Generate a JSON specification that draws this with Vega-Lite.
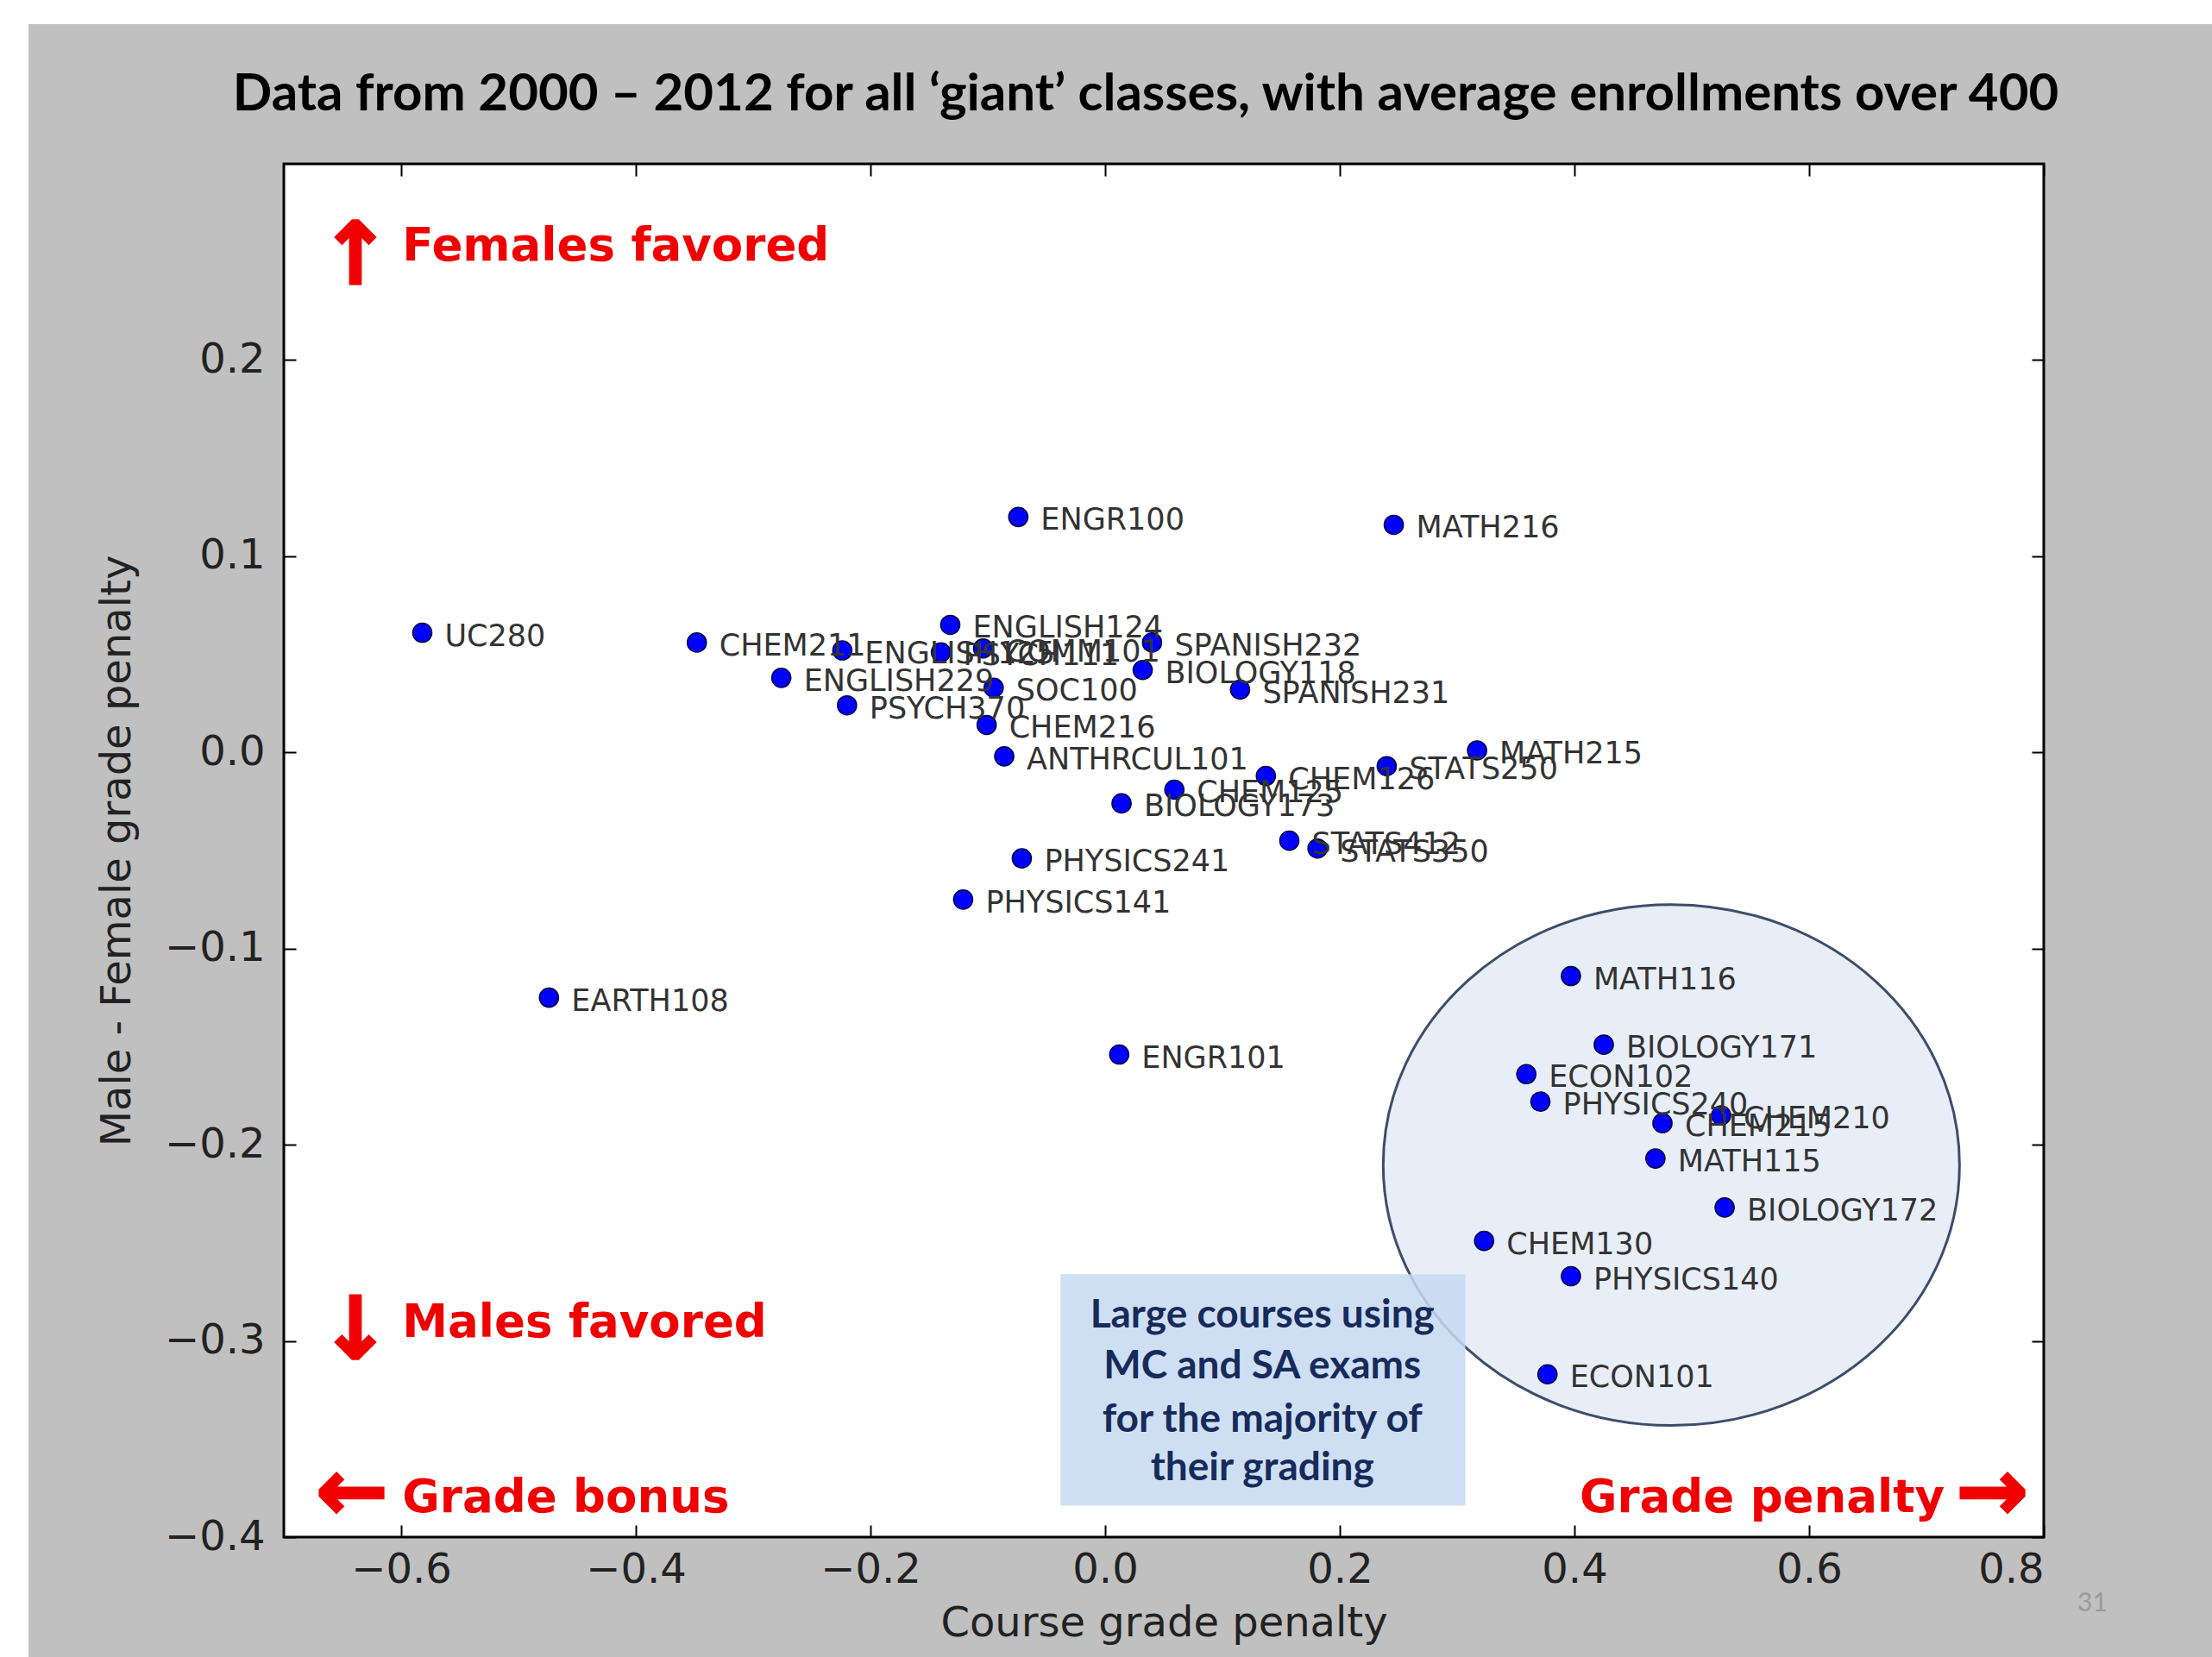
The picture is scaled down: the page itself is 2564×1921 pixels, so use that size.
{
  "$schema": "https://vega.github.io/schema/vega-lite/v6.json",
  "autosize": "none",
  "width": 2040,
  "height": 1592,
  "padding": {"left": 329, "top": 190, "right": 195, "bottom": 139},
  "background": "white",
  "view": {"stroke": null},
  "title": {
    "text": "Data from 2000 – 2012 for all ‘giant’ classes, with average enrollments over 400",
    "font": "Lato", "fontSize": 60, "fontWeight": "bold", "color": "black",
    "anchor": "middle", "baseline": "alphabetic", "offset": -160, "dx": -21
  },
  "datasets": {
    "courses": [
      {"course": "ENGR100", "x": -0.074, "y": 0.120},
      {"course": "MATH216", "x": 0.246, "y": 0.116},
      {"course": "UC280", "x": -0.582, "y": 0.061},
      {"course": "CHEM211", "x": -0.348, "y": 0.056},
      {"course": "ENGLISH125", "x": -0.224, "y": 0.052},
      {"course": "ENGLISH124", "x": -0.132, "y": 0.065},
      {"course": "PSYCH111", "x": -0.140, "y": 0.051},
      {"course": "COMM101", "x": -0.104, "y": 0.053},
      {"course": "ENGLISH229", "x": -0.276, "y": 0.038},
      {"course": "PSYCH370", "x": -0.220, "y": 0.024},
      {"course": "SOC100", "x": -0.095, "y": 0.033},
      {"course": "CHEM216", "x": -0.101, "y": 0.014},
      {"course": "ANTHRCUL101", "x": -0.086, "y": -0.002},
      {"course": "SPANISH232", "x": 0.040, "y": 0.056},
      {"course": "BIOLOGY118", "x": 0.032, "y": 0.042},
      {"course": "SPANISH231", "x": 0.115, "y": 0.032},
      {"course": "MATH215", "x": 0.317, "y": 0.001},
      {"course": "STATS250", "x": 0.240, "y": -0.007},
      {"course": "CHEM126", "x": 0.137, "y": -0.012},
      {"course": "CHEM125", "x": 0.059, "y": -0.019},
      {"course": "BIOLOGY173", "x": 0.014, "y": -0.026},
      {"course": "STATS412", "x": 0.157, "y": -0.045},
      {"course": "STATS350", "x": 0.181, "y": -0.049},
      {"course": "PHYSICS241", "x": -0.071, "y": -0.054},
      {"course": "PHYSICS141", "x": -0.121, "y": -0.075},
      {"course": "EARTH108", "x": -0.474, "y": -0.125},
      {"course": "ENGR101", "x": 0.012, "y": -0.154},
      {"course": "MATH116", "x": 0.397, "y": -0.114},
      {"course": "BIOLOGY171", "x": 0.425, "y": -0.149},
      {"course": "ECON102", "x": 0.359, "y": -0.164},
      {"course": "PHYSICS240", "x": 0.371, "y": -0.178},
      {"course": "CHEM215", "x": 0.475, "y": -0.189},
      {"course": "CHEM210", "x": 0.525, "y": -0.185},
      {"course": "MATH115", "x": 0.469, "y": -0.207},
      {"course": "BIOLOGY172", "x": 0.528, "y": -0.232},
      {"course": "CHEM130", "x": 0.323, "y": -0.249},
      {"course": "PHYSICS140", "x": 0.397, "y": -0.267},
      {"course": "ECON101", "x": 0.377, "y": -0.317}
    ],
    "slide": [{"x1": -0.9176, "x2": 1.0, "y1": 0.3712, "y2": -0.5}],
    "plotarea": [{"x1": -0.7, "x2": 0.8, "y1": 0.3, "y2": -0.4}],
    "ellipse": [{"x": 0.4826, "y": -0.2103}],
    "box": [{"x1": -0.038, "x2": 0.307, "y1": -0.266, "y2": -0.384}],
    "boxtext": [
      {"line": "Large courses using", "x": 0.134, "y": -0.287},
      {"line": "MC and SA exams", "x": 0.134, "y": -0.313},
      {"line": "for the majority of", "x": 0.134, "y": -0.340},
      {"line": "their grading", "x": 0.134, "y": -0.365}
    ],
    "redleft": [
      {"label": "Females favored", "x": -0.599, "y": 0.258},
      {"label": "Males favored", "x": -0.599, "y": -0.291},
      {"label": "Grade bonus", "x": -0.599, "y": -0.380}
    ],
    "redright": [
      {"label": "Grade penalty", "x": 0.7155, "y": -0.380}
    ],
    "arrows": [
      {"glyph": "↑", "x": -0.639, "y": 0.252},
      {"glyph": "↓", "x": -0.639, "y": -0.296},
      {"glyph": "←", "x": -0.642, "y": -0.378},
      {"glyph": "→", "x": 0.756, "y": -0.378}
    ],
    "page": [{"num": "31", "x": 0.8415, "y": -0.434}]
  },
  "config": {
    "axis": {
      "grid": false, "domain": false,
      "labelFont": "DejaVu Sans", "labelFontSize": 48, "labelColor": "#222222",
      "titleFont": "DejaVu Sans", "titleFontSize": 48, "titleFontWeight": "normal", "titleColor": "#222222",
      "tickColor": "black", "tickWidth": 2, "tickSize": -14
    }
  },
  "resolve": {"axis": {"x": "independent", "y": "independent"}},
  "layer": [
    {
      "data": {"name": "slide"},
      "mark": {"type": "rect", "fill": "#c0c0c0"},
      "encoding": {
        "x": {"field": "x1", "type": "quantitative", "scale": {"domain": [-0.7, 0.8], "nice": false, "zero": false}, "axis": null},
        "x2": {"field": "x2"},
        "y": {"field": "y1", "type": "quantitative", "scale": {"domain": [-0.4, 0.3], "nice": false, "zero": false}, "axis": null},
        "y2": {"field": "y2"}
      }
    },
    {
      "data": {"name": "plotarea"},
      "mark": {"type": "rect", "fill": "white"},
      "encoding": {
        "x": {"field": "x1", "type": "quantitative", "axis": null},
        "x2": {"field": "x2"},
        "y": {"field": "y1", "type": "quantitative", "axis": null},
        "y2": {"field": "y2"}
      }
    },
    {
      "data": {"name": "ellipse"},
      "mark": {"type": "point", "shape": "M-1,0A1,0.904,0,1,1,1,0A1,0.904,0,1,1,-1,0Z", "size": 446224, "filled": true, "fill": "#e6ecf6", "fillOpacity": 0.9, "stroke": "#3c4e6a", "strokeWidth": 3, "opacity": 1},
      "encoding": {
        "x": {"field": "x", "type": "quantitative", "axis": null},
        "y": {"field": "y", "type": "quantitative", "axis": null}
      }
    },
    {
      "mark": {"type": "rule", "color": "#ff0000", "strokeWidth": 2.5},
      "encoding": {"x": {"datum": 0, "type": "quantitative", "axis": null}}
    },
    {
      "mark": {"type": "rule", "color": "#ff0000", "strokeWidth": 2.5},
      "encoding": {"y": {"datum": 0, "type": "quantitative", "axis": null}}
    },
    {
      "mark": {"type": "rule", "color": "#3333ff", "strokeWidth": 2.5, "strokeDash": [3, 8]},
      "encoding": {"x": {"datum": -0.1, "type": "quantitative", "axis": null}}
    },
    {
      "mark": {"type": "rule", "color": "#3333ff", "strokeWidth": 2.5, "strokeDash": [3, 8]},
      "encoding": {"x": {"datum": 0.1, "type": "quantitative", "axis": null}}
    },
    {
      "mark": {"type": "rule", "color": "#3333ff", "strokeWidth": 2.5, "strokeDash": [3, 8]},
      "encoding": {"y": {"datum": 0.1, "type": "quantitative", "axis": null}}
    },
    {
      "mark": {"type": "rule", "color": "#3333ff", "strokeWidth": 2.5, "strokeDash": [3, 8]},
      "encoding": {"y": {"datum": -0.1, "type": "quantitative", "axis": null}}
    },
    {
      "data": {"name": "box"},
      "mark": {"type": "rect", "fill": "#c6d9f1", "opacity": 0.85},
      "encoding": {
        "x": {"field": "x1", "type": "quantitative", "axis": null},
        "x2": {"field": "x2"},
        "y": {"field": "y1", "type": "quantitative", "axis": null},
        "y2": {"field": "y2"}
      }
    },
    {
      "data": {"name": "plotarea"},
      "mark": {"type": "rect", "fill": null, "stroke": "black", "strokeWidth": 3},
      "encoding": {
        "x": {"field": "x1", "type": "quantitative", "axis": null},
        "x2": {"field": "x2"},
        "y": {"field": "y1", "type": "quantitative", "axis": null},
        "y2": {"field": "y2"}
      }
    },
    {
      "data": {"name": "courses"},
      "mark": {"type": "point", "filled": true, "size": 490, "fill": "#0000ff", "stroke": "#000040", "strokeWidth": 1.5, "opacity": 1},
      "encoding": {
        "x": {"field": "x", "type": "quantitative", "title": "Course grade penalty",
              "axis": {"orient": "bottom", "zindex": 2, "values": [-0.6, -0.4, -0.2, 0, 0.2, 0.4, 0.6, 0.8], "format": ".1f", "labelPadding": 28, "titlePadding": 14}},
        "y": {"field": "y", "type": "quantitative", "title": "Male - Female grade penalty",
              "axis": {"orient": "left", "zindex": 2, "values": [-0.4, -0.3, -0.2, -0.1, 0, 0.1, 0.2], "format": ".1f", "labelPadding": 36, "titlePadding": 30}}
      }
    },
    {
      "data": {"name": "courses"},
      "mark": {"type": "point", "opacity": 0},
      "encoding": {
        "x": {"field": "x", "type": "quantitative", "axis": {"orient": "top", "zindex": 2, "values": [-0.6, -0.4, -0.2, 0, 0.2, 0.4, 0.6, 0.8], "labels": false, "title": null}},
        "y": {"field": "y", "type": "quantitative", "axis": {"orient": "right", "zindex": 2, "values": [-0.4, -0.3, -0.2, -0.1, 0, 0.1, 0.2], "labels": false, "title": null}}
      }
    },
    {
      "data": {"name": "courses"},
      "mark": {"type": "text", "align": "left", "baseline": "middle", "dx": 26, "dy": 4, "font": "DejaVu Sans", "fontSize": 35, "fill": "#333333"},
      "encoding": {
        "x": {"field": "x", "type": "quantitative", "axis": null},
        "y": {"field": "y", "type": "quantitative", "axis": null},
        "text": {"field": "course"}
      }
    },
    {
      "data": {"name": "boxtext"},
      "mark": {"type": "text", "align": "center", "baseline": "middle", "font": "Lato", "fontWeight": "bold", "fontSize": 46, "fill": "#172b5a"},
      "encoding": {
        "x": {"field": "x", "type": "quantitative", "axis": null},
        "y": {"field": "y", "type": "quantitative", "axis": null},
        "text": {"field": "line"}
      }
    },
    {
      "data": {"name": "redleft"},
      "mark": {"type": "text", "align": "left", "baseline": "middle", "font": "DejaVu Sans", "fontWeight": "bold", "fontSize": 53, "fill": "#f00000"},
      "encoding": {
        "x": {"field": "x", "type": "quantitative", "axis": null},
        "y": {"field": "y", "type": "quantitative", "axis": null},
        "text": {"field": "label"}
      }
    },
    {
      "data": {"name": "redright"},
      "mark": {"type": "text", "align": "right", "baseline": "middle", "font": "DejaVu Sans", "fontWeight": "bold", "fontSize": 53, "fill": "#f00000"},
      "encoding": {
        "x": {"field": "x", "type": "quantitative", "axis": null},
        "y": {"field": "y", "type": "quantitative", "axis": null},
        "text": {"field": "label"}
      }
    },
    {
      "data": {"name": "arrows"},
      "mark": {"type": "text", "align": "center", "baseline": "middle", "font": "DejaVu Sans", "fontWeight": "bold", "fontSize": 100, "fill": "#f00000", "stroke": "#f00000", "strokeWidth": 3},
      "encoding": {
        "x": {"field": "x", "type": "quantitative", "axis": null},
        "y": {"field": "y", "type": "quantitative", "axis": null},
        "text": {"field": "glyph"}
      }
    },
    {
      "data": {"name": "page"},
      "mark": {"type": "text", "align": "center", "baseline": "middle", "font": "Lato", "fontSize": 30, "fill": "#9a9a9a"},
      "encoding": {
        "x": {"field": "x", "type": "quantitative", "axis": null},
        "y": {"field": "y", "type": "quantitative", "axis": null},
        "text": {"field": "num"}
      }
    }
  ]
}
